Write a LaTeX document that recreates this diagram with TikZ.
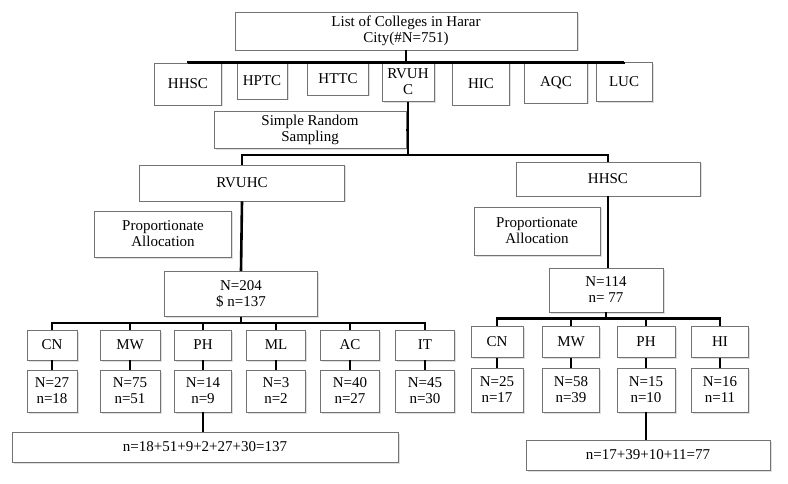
\documentclass[tikz,border=0pt]{standalone}
\usepackage{fontspec}
\setmainfont{Liberation Serif}
\usetikzlibrary{shadows}
\begin{document}
\begin{tikzpicture}[x=1pt,y=-1pt,
 box/.style={draw=black!55,line width=0.8pt,fill=white,align=center,inner sep=1pt,font=\fontsize{15}{16}\selectfont,
   drop shadow={opacity=0.25,shadow xshift=1.5pt,shadow yshift=-1.5pt}},
 con/.style={line width=2.6pt,black}]
\useasboundingbox (0,0) rectangle (788,484);
\newcommand{\bx}[6]{\node[box,minimum width=#3,minimum height=#4] (#5) at (#1,#2) {#6};}
% top
\bx{406}{31}{342}{38}{top}{List of Colleges in Harar\\City(\#N=751)}
\bx{188}{84}{67}{42}{a1}{HHSC}
\bx{262}{81}{50}{36}{a2}{HPTC}
\bx{338}{79}{61}{32}{a3}{HTTC}
\bx{408}{82}{52}{39}{a4}{RVUH\\C}
\bx{481}{84}{57}{42}{a5}{HIC}
\bx{556}{83}{63}{40}{a6}{AQC}
\bx{624}{82}{56}{39}{a7}{LUC}
\foreach \c in {a1,a2,a3,a4,a5,a6,a7}{\draw[con] (top.south) -- ++(0,12) -| (\c.north);}
\bx{310}{130}{192}{37}{srs}{Simple Random\\Sampling}
\coordinate (j) at (a4.south |- 0,155);
\draw[con] (a4.south) -- (j);
\draw[con] (srs.east) -- (srs.east -| a4.south);
\bx{242}{183}{205}{36}{rvu}{RVUHC}
\bx{608}{179}{184}{34}{hh}{HHSC}
\draw[con] (j) -| (rvu.north);
\draw[con] (j) -| (hh.north);
\bx{163}{234}{137}{46}{pa1}{Proportionate\\Allocation}
\bx{537}{231}{126}{48}{pa2}{Proportionate\\Allocation}
\bx{241}{294}{153}{45}{n1}{N=204\\\$ n=137}
\bx{606}{290}{114}{44}{n2}{N=114\\n= 77}
\draw[con] (rvu.south) -- (n1.north);
\draw[con] (hh.south) -- (hh.south |- n2.north);
% left children
\foreach \x/\w/\t/\N/\n [count=\i] in {52/50/CN/27/18,130/60/MW/75/51,203/57/PH/14/9,276/59/ML/3/2,350/59/AC/40/27,425/59/IT/45/30}{
 \bx{\x}{345}{\w}{30}{l\i}{\t}
 \bx{\x}{391}{\w}{42}{lv\i}{N=\N\\n=\n}
 \draw[con] (n1.south) -- ++(0,6) -| (l\i.north);
 \draw[con] (l\i.south) -- (lv\i.north);
}
\bx{205}{447}{386}{30}{ls}{n=18+51+9+2+27+30=137}
\draw[con] (lv3.south) -- (lv3.south |- ls.north);
% right children
\foreach \x/\w/\t/\N/\n [count=\i] in {497/52/CN/25/17,571/57/MW/58/39,646/58/PH/15/10,720/57/HI/16/11}{
 \bx{\x}{342}{\w}{31}{r\i}{\t}
 \bx{\x}{390}{\w}{44}{rv\i}{N=\N\\n=\n}
 \draw[con] (n2.south) -- ++(0,6) -| (r\i.north);
 \draw[con] (r\i.south) -- (rv\i.north);
}
\bx{648}{455}{244}{30}{rs}{n=17+39+10+11=77}
\draw[con] (rv3.south) -- (rv3.south |- rs.north);
\end{tikzpicture}
\end{document}
